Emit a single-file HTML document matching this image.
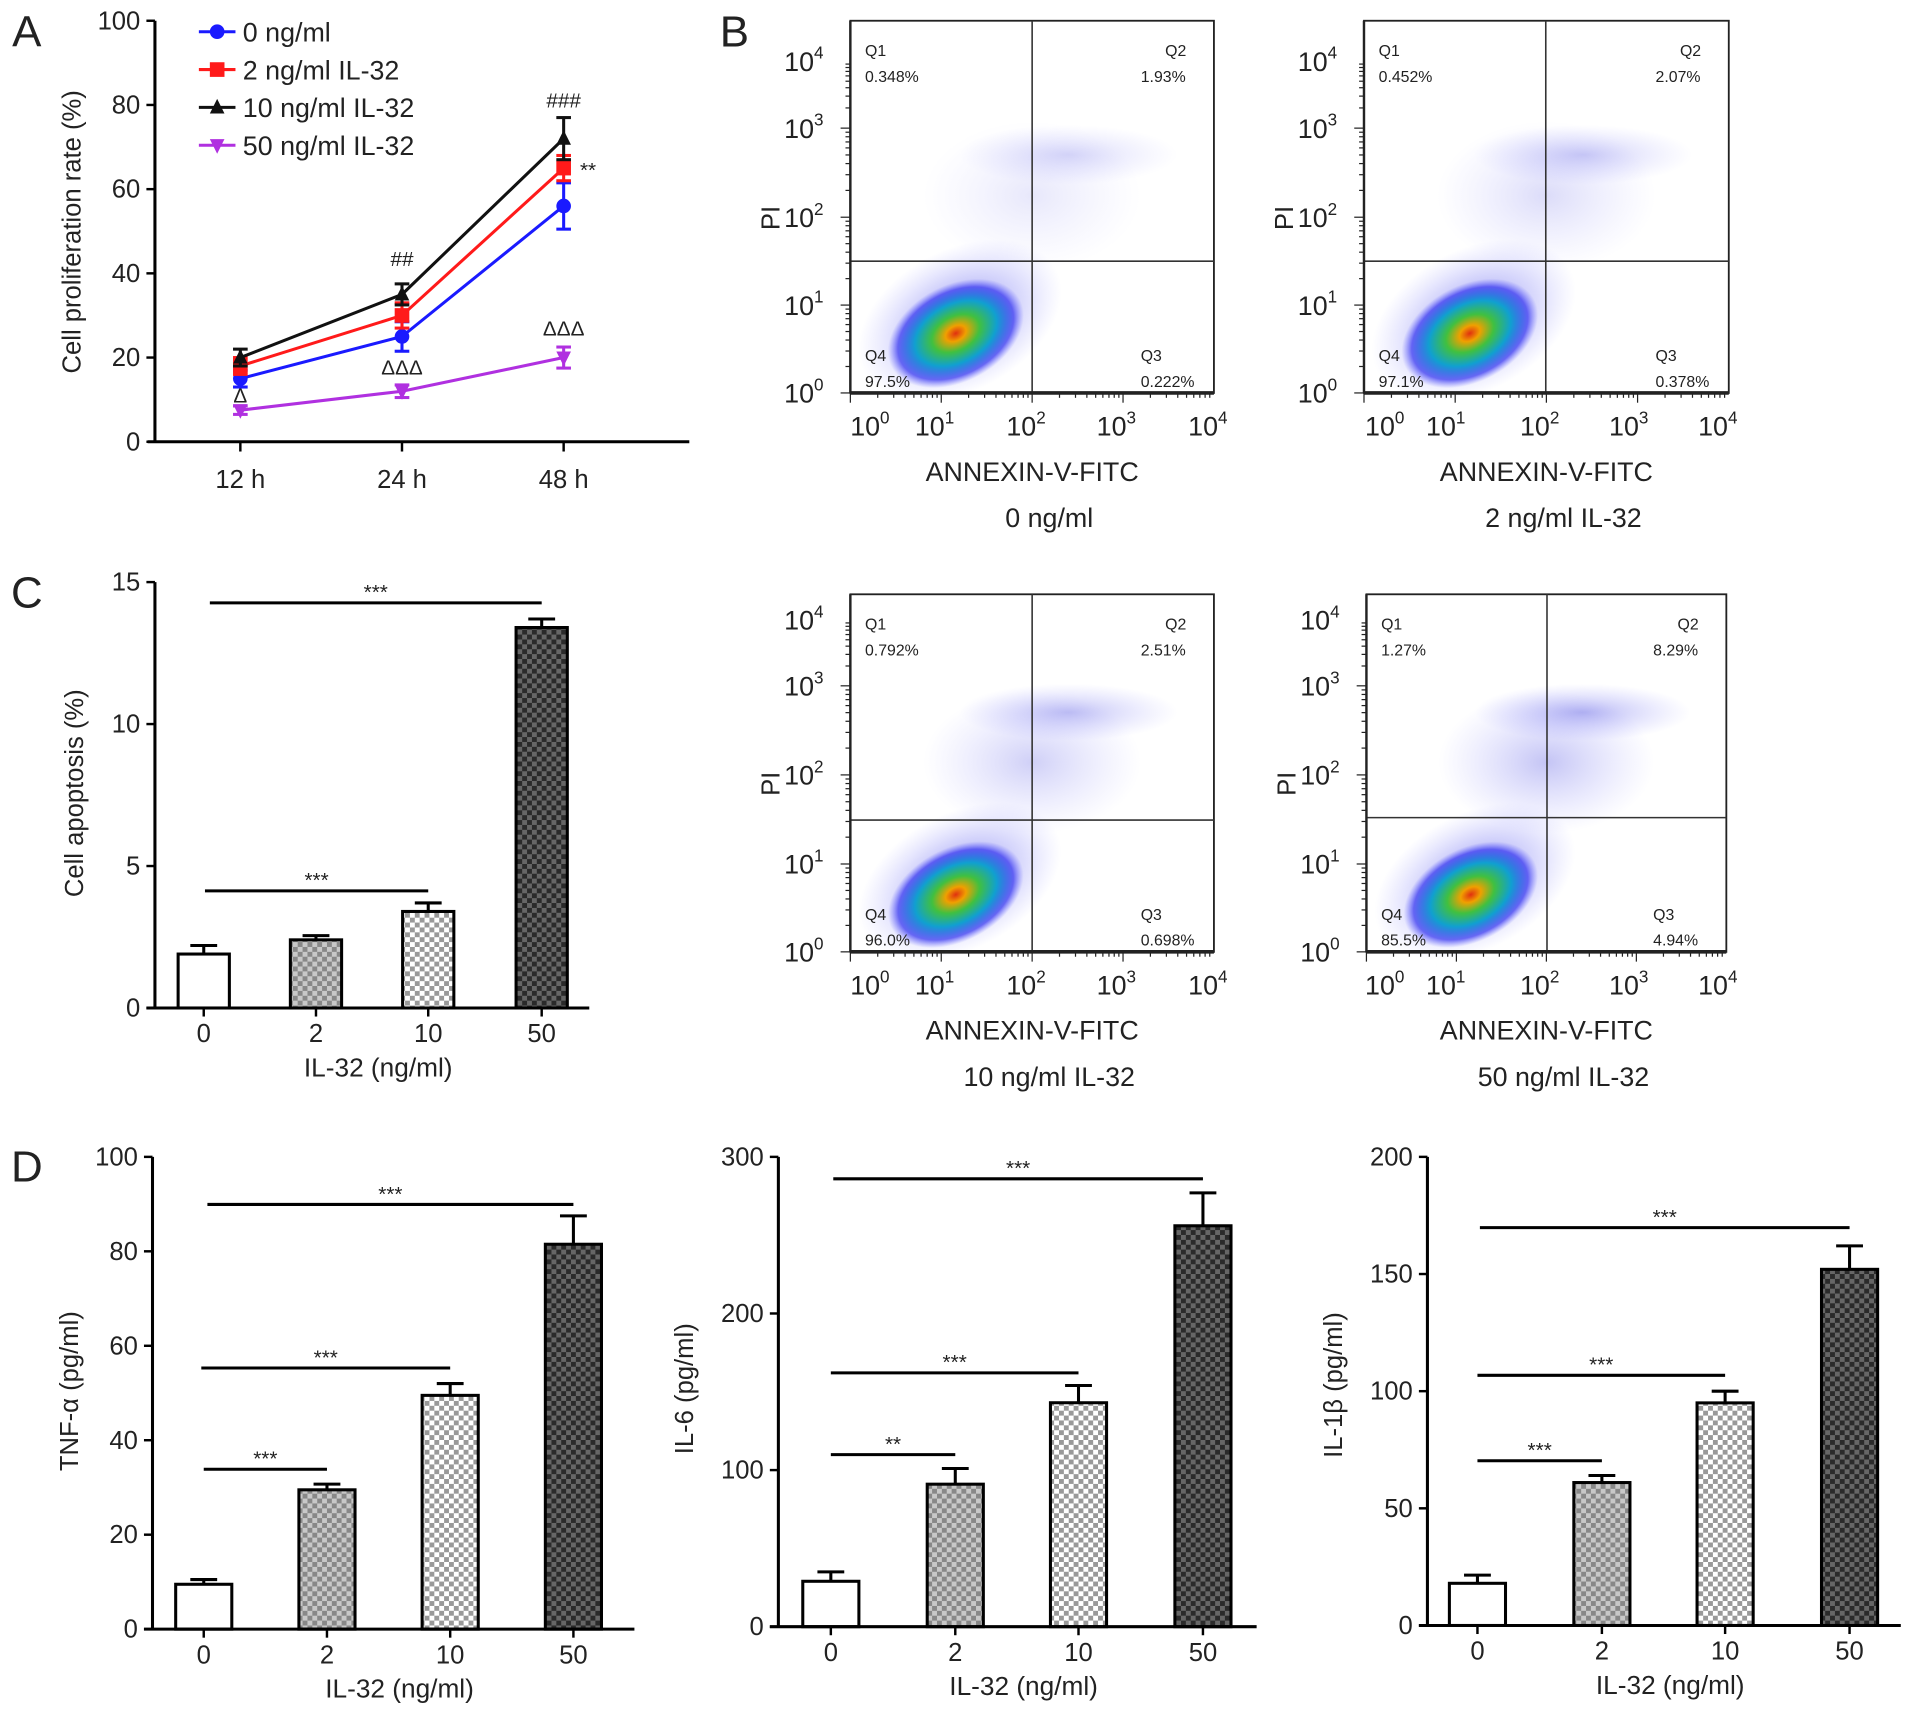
<!DOCTYPE html>
<html><head><meta charset="utf-8"><style>
html,body{margin:0;padding:0;background:#fff;}
svg{display:block;font-family:"Liberation Sans",Arial,sans-serif;}
</style></head><body>
<svg id="fig" width="1913" height="1717" viewBox="0 0 1568 1407" preserveAspectRatio="none" xmlns="http://www.w3.org/2000/svg">
<defs>
<pattern id="p2" width="8" height="8" patternUnits="userSpaceOnUse"><rect width="8" height="8" fill="#c8c8c8"/><rect width="4" height="4" fill="#888"/><rect x="4" y="4" width="4" height="4" fill="#888"/></pattern>
<pattern id="p10" width="8" height="8" patternUnits="userSpaceOnUse"><rect width="8" height="8" fill="#fff"/><rect width="4" height="4" fill="#999"/><rect x="4" y="4" width="4" height="4" fill="#999"/></pattern>
<pattern id="p50" width="8" height="8" patternUnits="userSpaceOnUse"><rect width="8" height="8" fill="#666"/><rect width="4" height="4" fill="#2a2a2a"/><rect x="4" y="4" width="4" height="4" fill="#2a2a2a"/></pattern>
<radialGradient id="jet"><stop offset="0" stop-color="#e03010"/><stop offset="0.15" stop-color="#f0a000"/><stop offset="0.35" stop-color="#40c040"/><stop offset="0.6" stop-color="#10a0d0"/><stop offset="0.85" stop-color="#3030f0" stop-opacity="0.7"/><stop offset="1" stop-color="#6060ff" stop-opacity="0"/></radialGradient>
<radialGradient id="halo"><stop offset="0" stop-color="#3030e0" stop-opacity="0.6"/><stop offset="1" stop-color="#8080ff" stop-opacity="0"/></radialGradient>
<radialGradient id="haze"><stop offset="0" stop-color="#5050e0" stop-opacity="0.45"/><stop offset="1" stop-color="#8080ff" stop-opacity="0"/></radialGradient>
</defs>
<g id="root"></g>
</svg>
<script>
// Panel A data
const timeCats = ["12 h","24 h","48 h"];
const s0 = [15, 25, 56];
const s2 = [18, 30, 65];
const s10 = [20, 35, 72];
const s50 = [7.5, 12, 20];
const e0 = [2, 3.5, 5.5];
const e2 = [2, 3, 3];
const e10 = [2, 2.5, 5];
const e50 = [1, 1.5, 2.5];
const aTicks = [0,20,40,60,80,100];
// Panel C
const doseCats = ["0","2","10","50"];
const apop = [1.9, 2.4, 3.4, 13.4];
const apopErr = [0.3, 0.15, 0.3, 0.3];
const cTicks = [0,5,10,15];
// Panel D
const tnf = [9.5, 29.5, 49.5, 81.5];
const tnfErr = [1, 1.2, 2.5, 6];
const il6 = [29, 91, 143, 256];
const il6Err = [6, 10, 11, 21];
const il1b = [18, 61, 95, 152];
const il1bErr = [3.5, 3, 5, 10];
const tnfTicks = [0,20,40,60,80,100];
const il6Ticks = [0,100,200,300];
const il1bTicks = [0,50,100,150,200];
// Panel B quadrant percentages
const flowQ1 = ["0.348%","0.452%","0.792%","1.27%"];
const flowQ2 = ["1.93%","2.07%","2.51%","8.29%"];
const flowQ3 = ["0.222%","0.378%","0.698%","4.94%"];
const flowQ4 = ["97.5%","97.1%","96.0%","85.5%"];
const flowTitles = ["0 ng/ml","2 ng/ml IL-32","10 ng/ml IL-32","50 ng/ml IL-32"];

const NS="http://www.w3.org/2000/svg";
const root=document.getElementById('root');
function el(tag,attrs,parent,text){const e=document.createElementNS(NS,tag);for(const k in attrs)e.setAttribute(k,attrs[k]);if(text!==undefined)e.textContent=text;(parent||root).appendChild(e);return e;}
function line(x1,y1,x2,y2,w,c,p){return el('line',{x1,y1,x2,y2,stroke:c||'#000','stroke-width':w||2},p);}
function txt(x,y,s,size,p,anchor,extra){const t=el('text',Object.assign({x,y,'font-size':size,'text-anchor':anchor||'middle',fill:'#222'},extra||{}),p,s);return t;}

// Letters
[["A",22,38],["B",602,38],["C",22,498],["D",22,968]].forEach(([l,x,y])=>{const t=txt(x,y,l,36,root,'middle');});

// ===== Panel A =====
(function(){
const g=el('g',{});
const x0=127,y0=362,yTop=17,xR=565;
const ys=v=>y0-(v/100)*(y0-yTop);
const xs=i=>197+i*132.5;
line(x0,yTop,x0,y0+1,2.5,'#000',g);line(x0-6,y0,xR,y0,2.5,'#000',g);
aTicks.forEach(t=>{line(x0-7,ys(t),x0,ys(t),2,'#000',g);const tl=txt(x0-12,ys(t)+7,String(t),21,g,'end');});
timeCats.forEach((c,i)=>{line(xs(i),y0,xs(i),y0+8,2,'#000',g);const tl=txt(xs(i),y0+38,c,21,g);});
const yt=txt(0,0,'Cell proliferation rate (%)',21,g,'middle',{transform:'translate(66,190) rotate(-90)'});

const series=[[s0,e0,'#1a1aff','circle','0 ng/ml'],[s2,e2,'#ff1a1a','square','2 ng/ml IL-32'],[s10,e10,'#111','tri','10 ng/ml IL-32'],[s50,e50,'#b030e0','itri','50 ng/ml IL-32']];
function marker(shape,x,y,c,p){
 if(shape==='circle')return el('circle',{cx:x,cy:y,r:6,fill:c},p);
 if(shape==='square')return el('rect',{x:x-6,y:y-6,width:12,height:12,fill:c},p);
 if(shape==='tri')return el('polygon',{points:`${x},${y-7} ${x-6},${y+5} ${x+6},${y+5}`,fill:c},p);
 return el('polygon',{points:`${x},${y+7} ${x-6},${y-5} ${x+6},${y-5}`,fill:c},p);
}
series.forEach(([vals,errs,c,sh,name],si)=>{
 const sg=el('g',{},g);
 el('polyline',{points:vals.map((v,i)=>xs(i)+','+ys(v)).join(' '),fill:'none',stroke:c,'stroke-width':2.5},sg);
 vals.forEach((v,i)=>{
  const x=xs(i);
  line(x,ys(v-errs[i]),x,ys(v+errs[i]),2.5,c,sg);
  line(x-6,ys(v+errs[i]),x+6,ys(v+errs[i]),2.5,c,sg);
  line(x-6,ys(v-errs[i]),x+6,ys(v-errs[i]),2.5,c,sg);
  const m=marker(sh,x,ys(v),c,sg);
 });
 const ly=26+si*31;
 const lg=el('g',{},g);
 line(163,ly,193,ly,2.5,c,lg);marker(sh,178,ly,c,lg);
 txt(199,ly+8,name,22,lg,'start');
});
[['##',xs(1),218],['###',xs(2),88],['**',482,145],['ΔΔΔ',xs(1),307],['ΔΔΔ',xs(2),275],['Δ',xs(0),330]].forEach(([s,x,y])=>{const t=txt(x,y,s,17,g);});
})();

// ===== Panel B =====
(function(){
const boxes=[[697,995,17,322,846,214,[322,250,178,105,50]],[1118,1417,17,322,1267,214,[322,250,178,105,50]],[697,995,487,780,846,672,[780,708,635,562,508]],[1120,1415,487,780,1268,670,[780,708,635,562,508]]];
const xlabOff=[[718,771,846,920,995],[1140,1190,1267,1340,1413]];
boxes.forEach(([l,r,t,b,vx,hy,ylab],k)=>{
 const g=el('g',{});
 const w=r-l,h=b-t;
 const cx=l+w*0.29,cy=t+h*0.84;
 el('ellipse',{cx:l+w*0.5,cy:t+h*0.47,rx:w*0.3,ry:h*0.2,fill:'url(#haze)',opacity:0.3+k*0.15},g);
 el('ellipse',{cx:l+w*0.6,cy:t+h*(k<2?0.36:0.33),rx:w*0.3,ry:h*0.08,fill:'url(#haze)',opacity:0.5+k*0.15},g);
 el('ellipse',{cx:cx+8,cy:cy-8,rx:w*0.3,ry:h*0.19,fill:'url(#halo)',transform:`rotate(-28 ${cx} ${cy})`},g);
 el('ellipse',{cx:cx,cy:cy,rx:w*0.2,ry:h*0.13,fill:'url(#jet)',transform:`rotate(-28 ${cx} ${cy})`},g);
 el('rect',{x:l,y:t,width:w,height:h,fill:'none',stroke:'#222','stroke-width':1.5},g);
 line(vx,t,vx,b,1.3,'#333',g);line(l,hy,r,hy,1.3,'#333',g);
 line(l,b,r,b,3,'#222',g);line(l,t,l,b,2,'#222',g);
 for(let d=0;d<4;d++){for(let m=1;m<10;m++){const xx=l+(d+Math.log10(m))*w/4;line(xx,b,xx,b+(m===1?8:4),1,'#222',g);}}
 for(let d=0;d<4;d++){for(let m=1;m<10;m++){const yy=ylab[d]-Math.log10(m)*(ylab[d]-ylab[d+1]);line(l-(m===1?8:4),yy,l,yy,1,'#222',g);}}
 const xl=xlabOff[k%2];
 for(let d=0;d<5;d++){
  const tx=txt(xl[d]-5,b+35,'10',22,g);el('tspan',{dy:-10,'font-size':14},tx,String(d));
  const ty=txt(l-22,ylab[d]+8,'10',22,g,'end');el('tspan',{dy:-10,'font-size':14},ty,String(d));
 }
 const pi=txt(0,0,'PI',21,g,'middle',{transform:`translate(${l-58},${t+h*0.53}) rotate(-90)`});
 txt(l+12,t+29,'Q1',13,g,'start');txt(l+12,t+50,flowQ1[k],13,g,'start');
 txt(r-40,t+29,'Q2',13,g,'start');txt(r-60,t+50,flowQ2[k],13,g,'start');
 txt(l+12,b-26,'Q4',13,g,'start');txt(l+12,b-5,flowQ4[k],13,g,'start');
 txt(r-60,b-26,'Q3',13,g,'start');txt(r-60,b-5,flowQ3[k],13,g,'start');
 const at=txt((l+r)/2,b+72,'ANNEXIN-V-FITC',22,g);
 const st=txt((l+r)/2+14,b+110,flowTitles[k],22,g);
});
})();

// ===== Bar chart helper =====
function barChart(opt){
 const g=el('g',{});
 const {x0,y0,yTop,xR,max,ticks,vals,errs,centers,bw,title,tx,ty,sig}=opt;
 const ys=v=>y0-(v/max)*(y0-yTop);
 const fills=['#fff','url(#p2)','url(#p10)','url(#p50)'];
 vals.forEach((v,i)=>{
  const c=centers[i];
  line(c,ys(v),c,ys(v+errs[i]),2.5,'#000',g);
  line(c-11,ys(v+errs[i]),c+11,ys(v+errs[i]),2.5,'#000',g);
  const r=el('rect',{x:c-bw/2,y:ys(v),width:bw,height:y0-ys(v),fill:fills[i],stroke:'#000','stroke-width':2.5},g);
  
  
 });
 line(x0,yTop,x0,y0+1,2.5,'#000',g);line(x0-7,y0,xR,y0,2.5,'#000',g);
 ticks.forEach(t=>{line(x0-7,ys(t),x0,ys(t),2,'#000',g);txt(x0-12,ys(t)+7,String(t),21,g,'end');});
 doseCats.forEach((c,i)=>{line(centers[i],y0,centers[i],y0+7,2,'#000',g);txt(centers[i],y0+28,c,21,g);});
 const xt=txt((x0+xR)/2+5,y0+56,'IL-32 (ng/ml)',21.5,g);
 const yt=txt(0,0,title,21,g,'middle',{transform:`translate(${tx},${ty}) rotate(-90)`});
 sig.forEach(([a,b,y,s])=>{line(a,y,b,y,2.5,'#000',g);const t=txt((a+b)/2,y-3,s,17,g);});
}
barChart({name:'panel-c-apoptosis-chart',x0:127,y0:826,yTop:477,xR:483,max:15,ticks:cTicks,vals:apop,errs:apopErr,centers:[167,259,351,444],bw:42,title:'Cell apoptosis (%)',tx:68,ty:650,sig:[[172,444,494,'***'],[168,351,730,'***']]});
barChart({name:'panel-d-tnf-chart',x0:125,y0:1335,yTop:948,xR:520,max:100,ticks:tnfTicks,vals:tnf,errs:tnfErr,centers:[167,268,369,470],bw:46,title:'TNF-α (pg/ml)',tx:64,ty:1140,sig:[[167,268,1204,'***'],[165,369,1121,'***'],[170,470,987,'***']]});
barChart({name:'panel-d-il6-chart',x0:638,y0:1333,yTop:948,xR:1030,max:300,ticks:il6Ticks,vals:il6,errs:il6Err,centers:[681,783,884,986],bw:46,title:'IL-6 (pg/ml)',tx:568,ty:1138,sig:[[681,783,1192,'**'],[681,884,1125,'***'],[683,986,966,'***']]});
barChart({name:'panel-d-il1b-chart',x0:1170,y0:1332,yTop:948,xR:1558,max:200,ticks:il1bTicks,vals:il1b,errs:il1bErr,centers:[1211,1313,1414,1516],bw:46,title:'IL-1β (pg/ml)',tx:1100,ty:1135,sig:[[1211,1313,1197,'***'],[1211,1414,1127,'***'],[1213,1516,1006,'***']]});
</script>
</body></html>
